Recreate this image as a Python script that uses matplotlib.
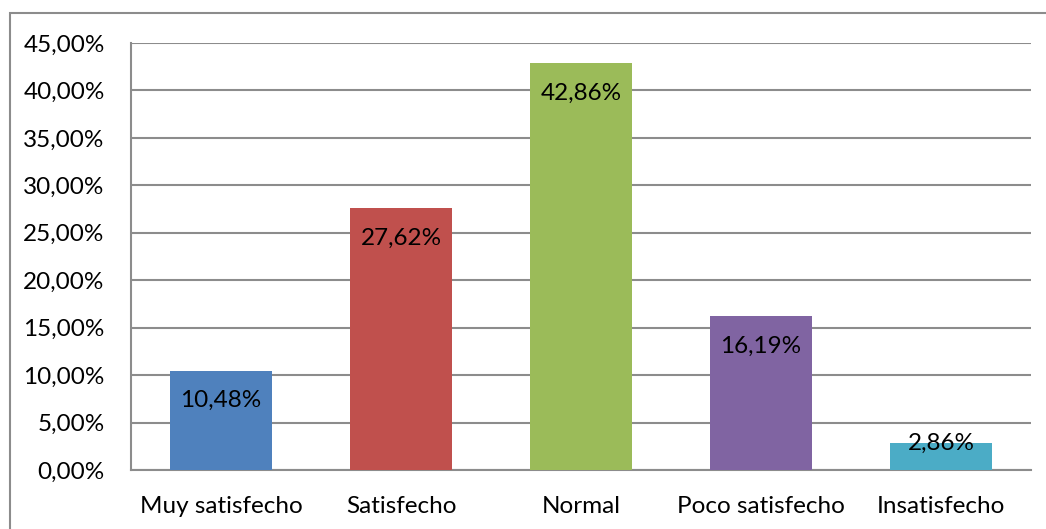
import matplotlib
matplotlib.use("Agg")
import matplotlib.pyplot as plt
from matplotlib.patches import Rectangle
from matplotlib.ticker import FuncFormatter, MultipleLocator

categories = ["Muy satisfecho", "Satisfecho", "Normal", "Poco satisfecho", "Insatisfecho"]
values = [10.48, 27.62, 42.86, 16.19, 2.86]
colors = ["#4F81BD", "#C0504D", "#9BBB59", "#8064A2", "#4BACC6"]

plt.rcParams['font.family'] = ['Lato', 'DejaVu Sans']
W, H = 1046, 529
fig = plt.figure(figsize=(W / 100, H / 100), dpi=100)
ax = fig.add_axes([131 / W, 1 - 470 / H, (1031 - 131) / W, (470 - 43) / H])

# outer chart border (left & top visible)
fig.patches.append(Rectangle((10 / W, -0.1), 1.2, 1 - 13 / H + 0.1, transform=fig.transFigure,
                             fill=False, edgecolor="#8c8c8c", linewidth=1.5))

x = range(len(categories))
ax.bar(x, values, width=0.57, color=colors, zorder=3)
ax.set_xlim(-0.5, len(categories) - 0.5)
ax.set_ylim(0, 45)
ax.yaxis.set_major_locator(MultipleLocator(5))
ax.yaxis.set_major_formatter(FuncFormatter(lambda v, p: f"{v:.2f}%".replace(".", ",")))
ax.grid(axis="y", color="#8c8c8c", linewidth=1.5, zorder=0)
ax.set_axisbelow(True)
for s in ["top", "right"]:
    ax.spines[s].set_visible(False)
for s in ["left", "bottom"]:
    ax.spines[s].set_color("#8c8c8c")
    ax.spines[s].set_linewidth(1.5)
ax.tick_params(axis="y", length=0, pad=19, labelsize=17.5)
ax.tick_params(axis="x", length=0, pad=19, labelsize=17.5)
ax.set_xticks(list(x))
ax.set_xticklabels(categories)

for xi, v in zip(x, values):
    off = -30 if v > 5 else 0
    ax.annotate(f"{v:.2f}%".replace(".", ","), (xi, v), xytext=(0, off * 0.72),
                textcoords="offset points", ha="center", va="center", fontsize=17.5,
                color="black", zorder=4)

fig.savefig("out.png", dpi=100)
